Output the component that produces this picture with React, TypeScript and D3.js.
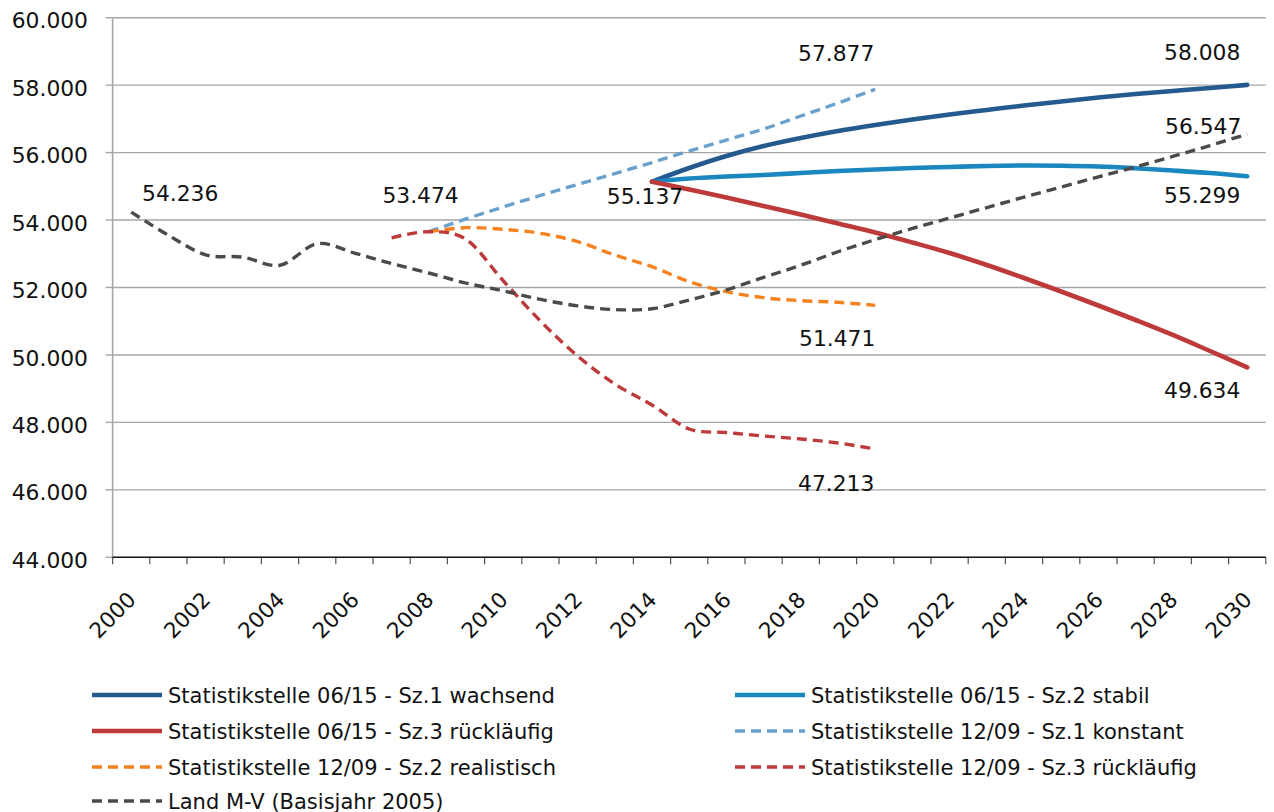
import React from "react";
import * as d3 from "d3";

const years: number[] = [
  2000, 2001, 2002, 2003, 2004, 2005, 2006, 2007, 2008, 2009, 2010,
  2011, 2012, 2013, 2014, 2015, 2016, 2017, 2018, 2019, 2020,
  2021, 2022, 2023, 2024, 2025, 2026, 2027, 2028, 2029, 2030,
];

const yTicks: number[] = [44000, 46000, 48000, 50000, 52000, 54000, 56000, 58000, 60000];
const yearLabels: number[] = [2000, 2002, 2004, 2006, 2008, 2010, 2012, 2014, 2016, 2018, 2020, 2022, 2024, 2026, 2028, 2030];

type V = number | null;
const N = null;

// Statistikstelle 06/15 - Sz.1 wachsend (2014-2030)
const sz1Wachsend0615: V[] = [
  N, N, N, N, N, N, N, N, N, N, N, N, N, N,
  55137, 55543, 55899, 56196, 56434, 56641, 56819, 56982, 57130, 57264,
  57397, 57516, 57634, 57738, 57827, 57916, 58008,
];
// Statistikstelle 06/15 - Sz.2 stabil
const sz2Stabil0615: V[] = [
  N, N, N, N, N, N, N, N, N, N, N, N, N, N,
  55137, 55232, 55291, 55336, 55395, 55455, 55499, 55543, 55573, 55603,
  55618, 55612, 55588, 55535, 55469, 55395, 55299,
];
// Statistikstelle 06/15 - Sz.3 rückläufig
const sz3Ruecklaeufig0615: V[] = [
  N, N, N, N, N, N, N, N, N, N, N, N, N, N,
  55137, 54906, 54669, 54416, 54164, 53898, 53631, 53334, 53023, 52667,
  52282, 51881, 51466, 51036, 50592, 50117, 49634,
];
// Statistikstelle 12/09 - Sz.1 konstant
const sz1Konstant1209: V[] = [
  N, N, N, N, N, N, N, N,
  53655, 54032, 54388, 54729, 55055, 55380, 55706, 56047, 56373, 56700,
  57085, 57471, 57877,
  N, N, N, N, N, N, N, N, N, N,
];
// Statistikstelle 12/09 - Sz.2 realistisch
const sz2Realistisch1209: V[] = [
  N, N, N, N, N, N, N, N,
  53655, 53774, 53725, 53607, 53359, 52964, 52617, 52172, 51876, 51698,
  51609, 51561, 51471,
  N, N, N, N, N, N, N, N, N, N,
];
// Statistikstelle 12/09 - Sz.3 rückläufig
const sz3Ruecklaeufig1209: V[] = [
  N, N, N, N, N, N, N,
  53474, 53655, 53429, 52200, 51006, 49968, 49138, 48516, 47804, 47700,
  47597, 47508, 47389, 47213,
  N, N, N, N, N, N, N, N, N, N,
];
// Land M-V (Basisjahr 2005)
const landMV: V[] = [
  54236, 53550, 52970, 52900, 52660, 53300, 53020, 52710, 52430, 52130,
  51900, 51650, 51455, 51345, 51370, 51630, 51930, 52300, 52660, 53060,
  53420, 53750, 54060, 54370, 54680, 54980, 55280, 55575, 55885, 56210,
  56547,
];

const seriesNames: string[] = [
  "Statistikstelle 06/15 - Sz.1 wachsend",
  "Statistikstelle 06/15 - Sz.2 stabil",
  "Statistikstelle 06/15 - Sz.3 rückläufig",
  "Statistikstelle 12/09 - Sz.1 konstant",
  "Statistikstelle 12/09 - Sz.2 realistisch",
  "Statistikstelle 12/09 - Sz.3 rückläufig",
  "Land M-V (Basisjahr 2005)",
];
const seriesValues: V[][] = [
  sz1Wachsend0615, sz2Stabil0615, sz3Ruecklaeufig0615,
  sz1Konstant1209, sz2Realistisch1209, sz3Ruecklaeufig1209, landMV,
];
const seriesColors: string[] = ["#255a8e", "#1a87be", "#be3a3a", "#6aa0cc", "#f5821f", "#be3a3a", "#4a4a4a"];
const seriesDashed: boolean[] = [false, false, false, true, true, true, true];

// data labels: [series index, year]
const labelSeries: number[] = [6, 5, 0, 3, 0, 6, 1, 4, 2, 5];
const labelYears: number[] = [2000, 2007, 2014, 2020, 2030, 2030, 2030, 2020, 2030, 2020];
// label centre offsets from the point (px)
const labelDx: number[] = [49, 29, -7, -39, -45, -44, -45, -38, -45, -39];
const labelDy: number[] = [-19, -42, 15, -36, -32, -8, 19, 33, 23, 35];

const fmt = (v: number) => d3.format(",")(v).replace(/,/g, ".");

export default function App() {
  const W = 1274, H = 812;
  const left = 112.6, right = 1265.8, top = 17.7, bottom = 557.3;
  const x = d3.scaleBand<number>().domain(years).range([left, right]).paddingInner(0).paddingOuter(0);
  const cx = (yr: number) => (x(yr) as number) + x.bandwidth() / 2;
  const y = d3.scaleLinear().domain([44000, 60000]).range([bottom, top]);

  const line = d3
    .line<[number, V]>()
    .defined((d) => d[1] !== null)
    .x((d) => cx(d[0]))
    .y((d) => y(d[1] as number))
    .curve(d3.curveCatmullRom.alpha(0));

  const font = "'DejaVu Sans', sans-serif";
  const boundaries = d3.range(years.length + 1).map((i) => left + i * x.bandwidth());

  const legendCols = [92, 735];
  const legendRows = [695, 731, 767, 801];

  return (
    <svg width={W} height={H} style={{ position: "absolute", left: 0, top: 0, background: "#fff" }} fontFamily={font}>
      <rect x={0} y={0} width={W} height={H} fill="#fff" />
      {/* gridlines */}
      {yTicks.map((t) => (
        <g key={t}>
          {t !== 44000 && <line x1={left} x2={right} y1={y(t)} y2={y(t)} stroke="#a6a6a6" strokeWidth={1.4} />}
          <line x1={left - 7} x2={left} y1={y(t)} y2={y(t)} stroke="#a6a6a6" strokeWidth={1.4} />
          <text x={88} y={y(t) + 10.6} textAnchor="end" fontSize={21.8} fill="#111">
            {fmt(t)}
          </text>
        </g>
      ))}
      <line x1={left} x2={left} y1={top} y2={bottom} stroke="#a6a6a6" strokeWidth={1.6} />
      {/* x axis */}
      {boundaries.map((b, i) => (
        <line key={i} x1={b} x2={b} y1={bottom} y2={bottom + 7} stroke="#555" strokeWidth={1.2} />
      ))}
      <line x1={left} x2={right} y1={bottom} y2={bottom} stroke="#111" strokeWidth={1.4} />
      {yearLabels.map((yr) => (
        <text
          key={yr}
          transform={`translate(${cx(yr) + 6},${601}) rotate(-45)`}
          textAnchor="end"
          fontSize={21.5}
          fill="#111"
        >
          {yr}
        </text>
      ))}
      {/* series */}
      {seriesValues.map((vals, i) => (
        <path
          key={i}
          d={line(years.map((yr, j) => [yr, vals[j]] as [number, V])) || ""}
          fill="none"
          stroke={seriesColors[i]}
          strokeWidth={seriesDashed[i] ? 3.4 : 4.6}
          strokeDasharray={seriesDashed[i] ? "10 6" : undefined}
          strokeLinecap={seriesDashed[i] ? "butt" : "round"}
        />
      ))}
      {/* data labels */}
      {labelSeries.map((s, k) => {
        const yr = labelYears[k];
        const v = seriesValues[s][years.indexOf(yr)] as number;
        return (
          <text
            key={k}
            x={cx(yr) + labelDx[k]}
            y={y(v) + labelDy[k] + 7.5}
            textAnchor="middle"
            fontSize={21.8}
            fill="#111"
          >
            {fmt(v)}
          </text>
        );
      })}
      {/* legend */}
      {seriesNames.map((name, i) => {
        const col = i % 2;
        const row = Math.floor(i / 2);
        const lx = legendCols[col];
        const ly = legendRows[row];
        return (
          <g key={name}>
            <line
              x1={lx}
              x2={lx + 70}
              y1={ly}
              y2={ly}
              stroke={seriesColors[i]}
              strokeWidth={seriesDashed[i] ? 3.4 : 4.6}
              strokeDasharray={seriesDashed[i] ? "10 6" : undefined}
            />
            <text x={lx + 76} y={ly + 7.5} fontSize={21} fill="#111">
              {name}
            </text>
          </g>
        );
      })}
    </svg>
  );
}
